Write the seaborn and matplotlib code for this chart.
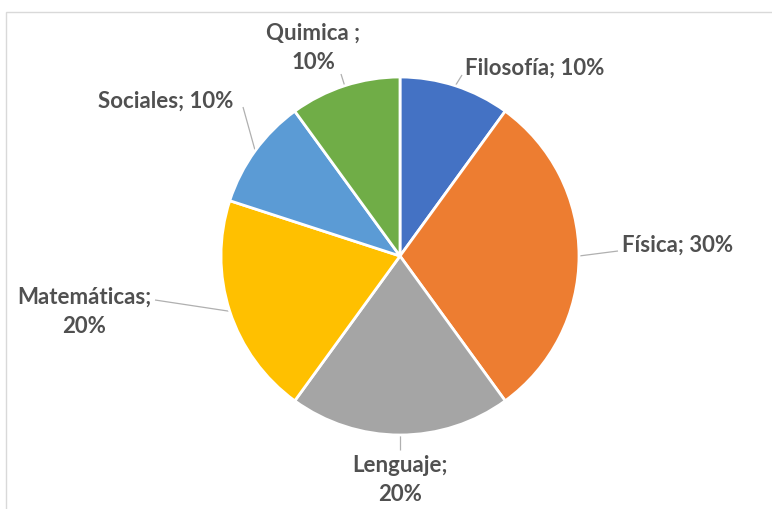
import numpy as np
import matplotlib
matplotlib.use("Agg")
import matplotlib.pyplot as plt
from matplotlib.patches import Rectangle
import seaborn as sns

# Subject shares (percent), clockwise from 12 o'clock
subjects = ["Filosofía", "Física", "Lenguaje", "Matemáticas", "Sociales", "Quimica "]
shares = [10, 30, 20, 20, 10, 10]
colors = ["#4472C4", "#ED7D31", "#A5A5A5", "#FFC000", "#5B9BD5", "#70AD47"]

# Label text blocks (two-line labels where the name wraps)
label_texts = [
    "Filosofía; 10%",
    "Física; 30%",
    "Lenguaje;\n20%",
    "Matemáticas;\n20%",
    "Sociales; 10%",
    "Quimica ;\n10%",
]

sns.set_theme(style="white")
plt.rcParams["font.family"] = ["Lato", "DejaVu Sans"]

W, H = 772, 510
fig = plt.figure(figsize=(W / 100, H / 100), dpi=100)
fig.patch.set_facecolor("white")
ax = fig.add_axes([0, 0, 1, 1])
ax.set_xlim(0, W)
ax.set_ylim(0, H)
ax.set_aspect("equal")
ax.axis("off")

# Chart-area frame
fig.patches.append(Rectangle((6 / W, -0.05), 1.2, (H - 13) / H + 0.05,
                             transform=fig.transFigure, fill=False,
                             edgecolor="#D9D9D9", linewidth=1.0))

cx, cy, r = 400, H - 257, 179
wedges, _ = ax.pie(shares, colors=colors, startangle=90, counterclock=False,
                   center=(cx, cy), radius=r,
                   wedgeprops=dict(edgecolor="white", linewidth=2))
ax.set_xlim(0, W)
ax.set_ylim(0, H)

# Label anchor positions (pixel x, pixel y from top) and leader-line end points
label_pos = [(535, 68), (678, 245), (400, 480), (84, 312), (166, 101), (313, 48)]
leader_end = [(462, 76), (618, 252), (400, 451), (155, 301), (243, 108), (341, 75)]

angles = []
acc = 0.0
total = float(sum(shares))
for s in shares:
    mid = 90 - (acc + s / 2) / total * 360
    angles.append(np.deg2rad(mid))
    acc += s

for txt, (lx, ly), (ex, ey), a in zip(label_texts, label_pos, leader_end, angles):
    ax.text(lx, H - ly, txt, ha="center", va="center", fontsize=16,
            fontweight="bold", color="#505050", linespacing=1.45)
    px, py = cx + r * np.cos(a), cy + r * np.sin(a)
    ax.plot([px, ex], [py, H - ey], color="#B0B0B0", linewidth=0.9,
            solid_capstyle="butt", zorder=0.5)

fig.savefig("out.png", dpi=100, facecolor="white")
